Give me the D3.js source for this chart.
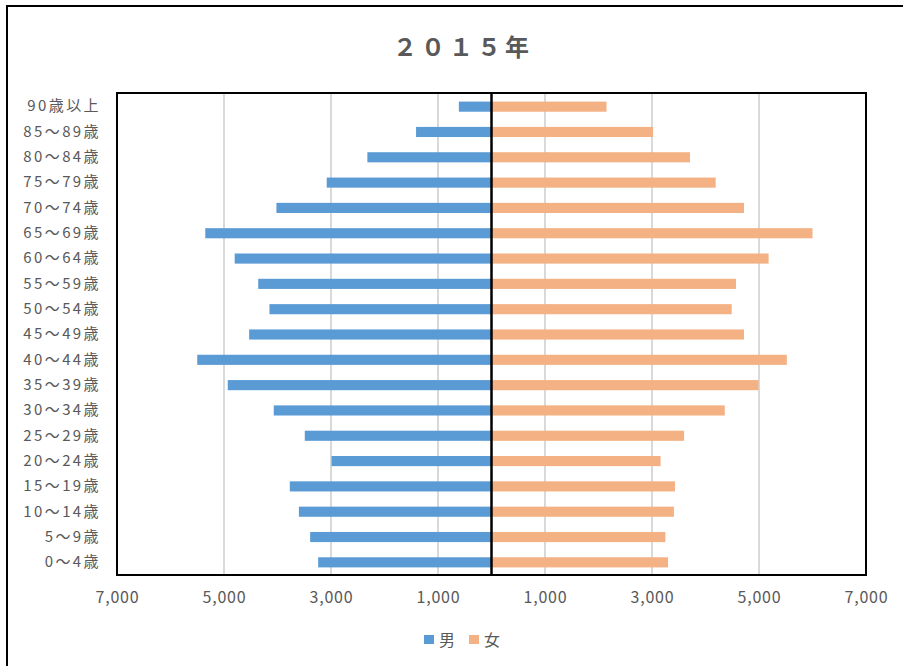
<!DOCTYPE html>
<html lang="ja">
<head>
<meta charset="utf-8">
<script src="https://cdn.jsdelivr.net/npm/d3@7"></script>
<style>
  html, body { margin: 0; padding: 0; background: #fff; }
  svg { display: block; }
  text { font-family: "Noto Sans CJK JP", "Noto Sans", sans-serif; }
</style>
</head>
<body>
<script>
// Population by age group, 2015 (persons)
const ageGroups = [
  "90歳以上", "85～89歳", "80～84歳", "75～79歳", "70～74歳", "65～69歳",
  "60～64歳", "55～59歳", "50～54歳", "45～49歳", "40～44歳", "35～39歳",
  "30～34歳", "25～29歳", "20～24歳", "15～19歳", "10～14歳", "5～9歳", "0～4歳"
];
const male = [
  610, 1410, 2320, 3080, 4020, 5350, 4800, 4360, 4150, 4530,
  5500, 4930, 4070, 3490, 2990, 3770, 3600, 3390, 3240
];
const female = [
  2150, 3020, 3710, 4190, 4720, 6000, 5180, 4570, 4490, 4720,
  5520, 4990, 4360, 3600, 3160, 3430, 3410, 3250, 3300
];
const xTicks = [-7000, -5000, -3000, -1000, 1000, 3000, 5000, 7000];
const seriesNames = ["男", "女"];
const seriesColors = ["#5B9BD5", "#F4B183"];
const title = "２０１５年";

const W = 903, H = 666;
const plot = { left: 117, right: 866, top: 93, bottom: 575 };

const svg = d3.select("body").append("svg")
  .attr("width", W).attr("height", H);

// outer chart frame
svg.append("rect")
  .attr("x", 7).attr("y", 6)
  .attr("width", 913).attr("height", 720)
  .attr("fill", "#fff").attr("stroke", "#000").attr("stroke-width", 2);

svg.append("text")
  .attr("x", 463).attr("y", 56)
  .attr("text-anchor", "middle")
  .attr("font-size", 24).attr("font-weight", "bold")
  .attr("letter-spacing", 4)
  .attr("fill", "#595959")
  .text(title);

const x = d3.scaleLinear().domain([-7000, 7000]).range([plot.left, plot.right]);
const y = d3.scaleBand().domain(ageGroups)
  .range([plot.top + 1, plot.bottom])
  .paddingInner(0.6).paddingOuter(0.3);

// vertical gridlines
svg.append("g")
  .selectAll("line")
  .data(xTicks.filter(v => Math.abs(v) < 7000))
  .join("line")
  .attr("x1", d => x(d)).attr("x2", d => x(d))
  .attr("y1", plot.top).attr("y2", plot.bottom)
  .attr("stroke", "#d9d9d9").attr("stroke-width", 2);

// male bars (drawn leftward)
svg.append("g")
  .selectAll("rect")
  .data(ageGroups.map((g, i) => ({ g, v: male[i] })))
  .join("rect")
  .attr("x", d => x(-d.v))
  .attr("width", d => x(0) - x(-d.v))
  .attr("y", d => y(d.g))
  .attr("height", y.bandwidth())
  .attr("fill", seriesColors[0]);

// female bars (drawn rightward)
svg.append("g")
  .selectAll("rect")
  .data(ageGroups.map((g, i) => ({ g, v: female[i] })))
  .join("rect")
  .attr("x", x(0))
  .attr("width", d => x(d.v) - x(0))
  .attr("y", d => y(d.g))
  .attr("height", y.bandwidth())
  .attr("fill", seriesColors[1]);

// plot frame and centre axis
svg.append("rect")
  .attr("x", plot.left).attr("y", plot.top)
  .attr("width", plot.right - plot.left).attr("height", plot.bottom - plot.top)
  .attr("fill", "none").attr("stroke", "#000").attr("stroke-width", 2);
svg.append("line")
  .attr("x1", x(0)).attr("x2", x(0))
  .attr("y1", plot.top).attr("y2", plot.bottom)
  .attr("stroke", "#000").attr("stroke-width", 2.5);

// x axis labels (absolute values on both sides)
const xAxis = svg.append("g")
  .attr("transform", `translate(0,${plot.bottom})`)
  .call(d3.axisBottom(x).tickValues(xTicks)
    .tickFormat(d => d3.format(",")(Math.abs(d)))
    .tickSize(0).tickPadding(17));
xAxis.select(".domain").remove();
xAxis.selectAll("text")
  .attr("font-size", 16).attr("fill", "#595959")
  .attr("font-family", "'Noto Sans CJK JP', sans-serif")
  .attr("letter-spacing", 0.8);

// y axis labels
const yAxis = svg.append("g")
  .attr("transform", `translate(${plot.left},0)`)
  .call(d3.axisLeft(y).tickSize(0).tickPadding(16));
yAxis.select(".domain").remove();
yAxis.selectAll("text")
  .attr("font-size", 15).attr("fill", "#595959")
  .attr("font-family", "'Noto Sans CJK JP', sans-serif")
  .attr("letter-spacing", 2.4);

// legend
const legend = svg.append("g").attr("transform", "translate(424,635)");
const items = legend.selectAll("g")
  .data(seriesNames)
  .join("g")
  .attr("transform", (d, i) => `translate(${i * 45},0)`);
items.append("rect")
  .attr("width", 10).attr("height", 9)
  .attr("fill", (d, i) => seriesColors[i]);
items.append("text")
  .attr("x", 15).attr("y", 5)
  .attr("dy", "0.35em")
  .attr("font-size", 16).attr("fill", "#595959")
  .text(d => d);
</script>
</body>
</html>
